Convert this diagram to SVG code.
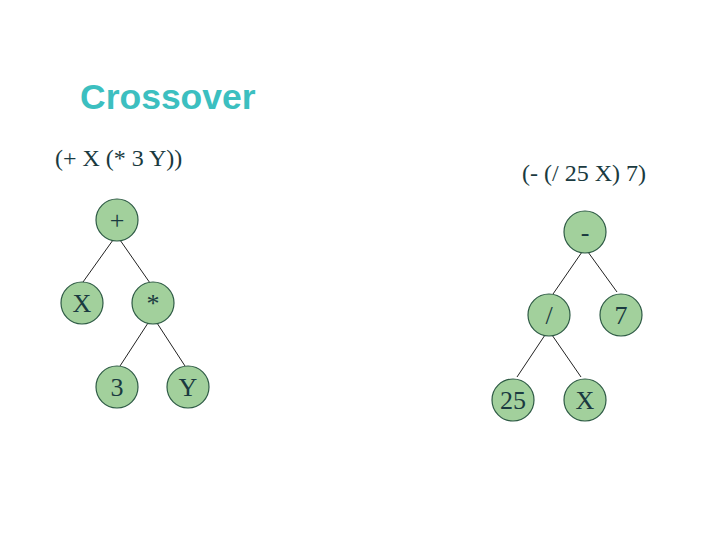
<svg xmlns="http://www.w3.org/2000/svg" width="720" height="540" viewBox="0 0 720 540">
<style>
.n circle{fill:#a2d09c;stroke:#2d5a44;stroke-width:1.2}
.n text{font-family:"Liberation Serif",serif;font-size:26px;fill:#1a3a40;text-anchor:middle}
.e line{stroke:#222;stroke-width:1}
.f{font-family:"Liberation Serif",serif;font-size:24px;fill:#1a3a40}
.t{font-family:"Liberation Sans",Arial,sans-serif;font-size:35.5px;font-weight:bold;fill:#3cbfc0}
</style>
<rect width="720" height="540" fill="#fff"/>
<text class="t" x="80" y="109">Crossover</text>
<text class="f" x="55" y="166">(+ X (* 3 Y))</text>
<text class="f" x="522" y="181">(- (/ 25 X) 7)</text>
<g id="connectors" class="e">
<line x1="113" y1="240" x2="83" y2="282"/>
<line x1="120" y1="240" x2="150" y2="283"/>
<line x1="148" y1="323" x2="120" y2="366"/>
<line x1="157" y1="323" x2="185" y2="366"/>
<line x1="582" y1="252" x2="553" y2="294"/>
<line x1="588" y1="252" x2="617" y2="292"/>
<line x1="545" y1="335" x2="517" y2="377"/>
<line x1="552" y1="335" x2="581" y2="377"/>
</g>
<g id="n-plus" class="n"><circle cx="117" cy="220" r="21"/><text x="117" y="229">+</text></g>
<g id="n-x1" class="n"><circle cx="82" cy="303" r="21"/><text x="82" y="312">X</text></g>
<g id="n-mul" class="n"><circle cx="153" cy="303" r="21"/><text x="153" y="312">*</text></g>
<g id="n-3" class="n"><circle cx="117" cy="387" r="21"/><text x="117" y="396">3</text></g>
<g id="n-y" class="n"><circle cx="188" cy="387" r="21"/><text x="188" y="396">Y</text></g>
<g id="n-minus" class="n"><circle cx="585" cy="232" r="21"/><text x="585" y="241">-</text></g>
<g id="n-div" class="n"><circle cx="549" cy="315" r="21"/><text x="549" y="324">/</text></g>
<g id="n-7" class="n"><circle cx="621" cy="315" r="21"/><text x="621" y="324">7</text></g>
<g id="n-25" class="n"><circle cx="513" cy="400" r="21"/><text x="513" y="409">25</text></g>
<g id="n-x2" class="n"><circle cx="585" cy="400" r="21"/><text x="585" y="409">X</text></g>
</svg>
